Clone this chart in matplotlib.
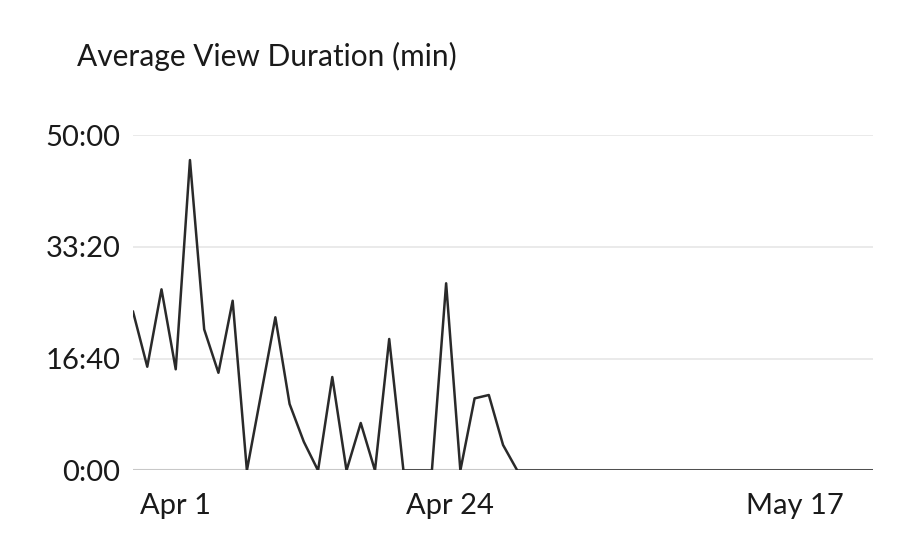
import matplotlib
matplotlib.use("Agg")
import matplotlib.pyplot as plt
from matplotlib.ticker import FuncFormatter

# average view duration per day, in seconds
durations = [1420, 928, 1620, 905, 2776, 1262, 874, 1518, 0, 685,
             1370, 595, 257, 0, 836, 0, 425, 0, 1176, 0,
             0, 0, 1674, 0, 645, 675, 228, 0, 0, 0,
             0, 0, 0, 0, 0, 0, 0, 0, 0, 0,
             0, 0, 0, 0, 0, 0, 0, 0, 0, 0,
             0, 0, 0]
days = list(range(len(durations)))
x_tick_pos = [3, 22.3, 46.5]
x_tick_labels = ["Apr 1", "Apr 24", "May 17"]
y_ticks = [0, 1000, 2000, 3000]

plt.rcParams['font.family'] = ['Lato', 'DejaVu Sans']


def mmss(v, pos=None):
    v = int(round(v))
    return "%d:%02d" % (v // 60, v % 60)


fig = plt.figure(figsize=(9.2, 5.57), dpi=100)
ax = fig.add_axes([0.1446, 0.1553, 0.8044, 0.6023])

ax.plot(days, durations, color="#2a2a2a", lw=1.8, zorder=3)

ax.set_xlim(0, len(durations) - 1)
ax.set_ylim(0, 3000)
ax.set_yticks(y_ticks)
ax.yaxis.set_major_formatter(FuncFormatter(mmss))
ax.set_xticks(x_tick_pos)
ax.set_xticklabels(x_tick_labels)

ax.grid(axis="y", color="#e6e6e6", lw=1.2)
ax.axhline(0, color="#c8c8c8", lw=1.5, zorder=2)
for s in ax.spines.values():
    s.set_visible(False)
ax.tick_params(length=0, labelsize=21, colors="#1a1a1a")
ax.tick_params(axis="y", pad=9)
ax.tick_params(axis="x", pad=16)

fig.text(77 / 920, 1 - 56 / 557, "Average View Duration (min)",
         fontsize=21.5, color="#1a1a1a", va="center", ha="left")

fig.savefig("out.png", dpi=100, facecolor="white")
